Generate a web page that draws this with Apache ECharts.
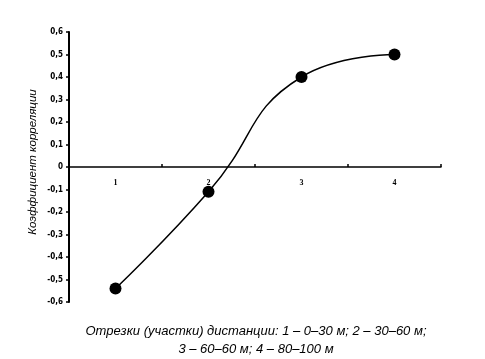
<!DOCTYPE html>
<html><head><meta charset="utf-8">
<script src="https://cdn.jsdelivr.net/npm/echarts@6/dist/echarts.min.js"></script>
<style>html,body{margin:0;padding:0;background:#fff}#c{width:485px;height:359px}</style>
</head><body><div id="c"></div>
<script>
const categories = ['1', '2', '3', '4'];
const correlation = [-0.54, -0.11, 0.40, 0.50];
const yTitle = 'Коэффициент корреляции';
const xTitleLines = ['Отрезки (участки) дистанции: 1 – 0–30 м; 2 – 30–60 м;', '3 – 60–60 м; 4 – 80–100 м'];

const chart = echarts.init(document.getElementById('c'));
chart.setOption({
  animation: false,
  backgroundColor: '#fff',
  grid: {left: 69, right: 44, top: 32, bottom: 57, containLabel: false},
  xAxis: {
    type: 'category', data: categories, boundaryGap: true,
    position: 'bottom', offset: -135,
    axisLine: {onZero: false, lineStyle: {color: '#000', width: 1.5}},
    axisTick: {show: true, inside: true, length: 3, lineStyle: {color: '#000', width: 1.5}},
    axisLabel: {color: '#000', fontSize: 8, fontFamily: 'Liberation Serif', fontWeight: 'bold', margin: 12},
    splitLine: {show: false}
  },
  yAxis: {
    type: 'value', min: -0.6, max: 0.6, interval: 0.1,
    axisLine: {show: true, lineStyle: {color: '#000', width: 2}},
    axisTick: {show: true, length: 3, lineStyle: {color: '#000', width: 1.5}},
    axisLabel: {color: '#000', fontSize: 8, fontFamily: 'DejaVu Sans Condensed', fontWeight: 'bold', margin: 6,
      formatter: v => { const r = Math.round(v * 10) / 10; return r === 0 ? '0' : r.toFixed(1).replace('.', ','); }},
    splitLine: {show: false}
  },
  graphic: [
    {type: 'text', rotation: Math.PI / 2, x: 33, y: 162,
      style: {text: yTitle, font: 'italic 11.5px "Liberation Sans"', fill: '#000', textAlign: 'center', textVerticalAlign: 'middle'}},
    {type: 'text', x: 256, y: 331,
      style: {text: xTitleLines[0], font: 'italic 13px "Liberation Sans"', fill: '#000', textAlign: 'center', textVerticalAlign: 'middle'}},
    {type: 'text', x: 256, y: 349,
      style: {text: xTitleLines[1], font: 'italic 13px "Liberation Sans"', fill: '#000', textAlign: 'center', textVerticalAlign: 'middle'}}
  ],
  series: [{
    type: 'line', data: correlation, smooth: 0.5,
    symbol: 'circle', symbolSize: 12,
    itemStyle: {color: '#000'},
    lineStyle: {color: '#000', width: 1.5}
  }]
});
</script></body></html>
